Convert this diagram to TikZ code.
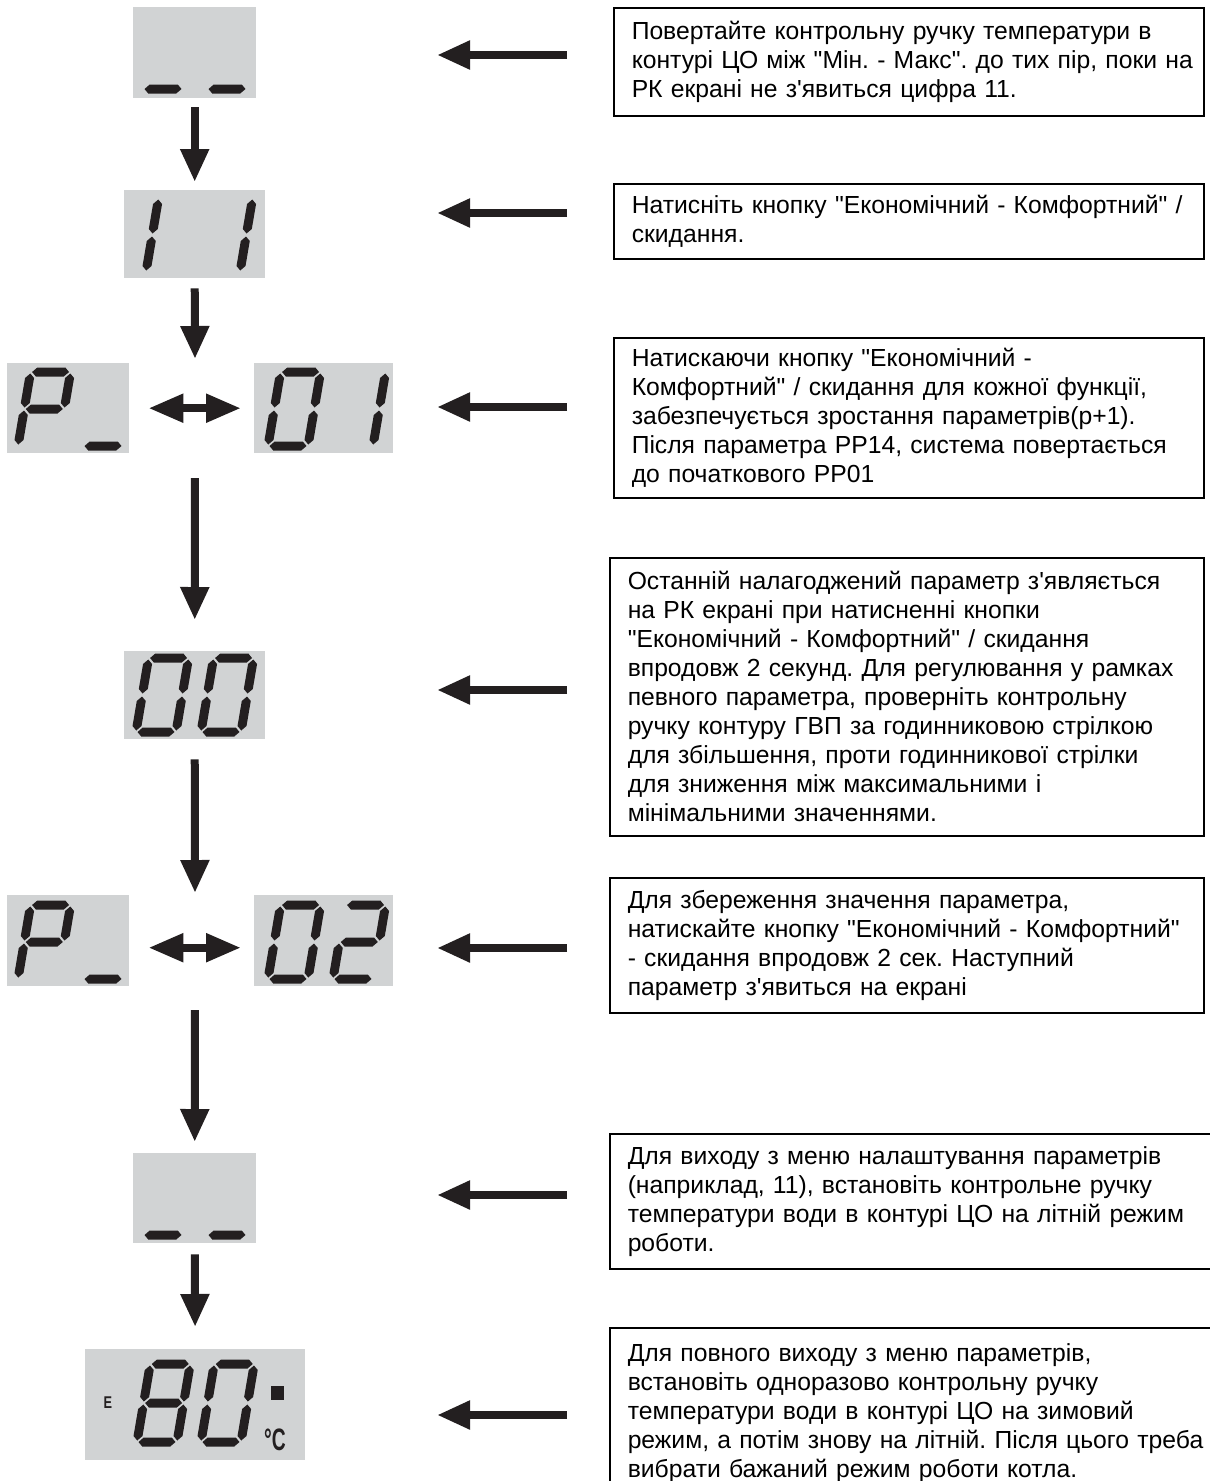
\documentclass[tikz,border=0pt]{standalone}
\usepackage{fontspec}
\newfontfamily\arialschrift{Liberation Sans}
\usepackage{tikz}
\usetikzlibrary{arrows.meta, calc, positioning}
\definecolor{lcdgrau}{HTML}{D1D3D4}
\definecolor{tinte}{HTML}{231F20}

% --- 7-Segment-Anzeige: lokale Koordinaten, y nach oben ---
\newcommand{\dW}{40}
\newcommand{\dH}{74}
\newcommand{\hseg}[3]{\fill[tinte] (#1+1.5,#3) -- (#1+6,#3+4.5) -- (#2-6,#3+4.5)
  -- (#2-1.5,#3) -- (#2-6,#3-4.5) -- (#1+6,#3-4.5) -- cycle;}
\newcommand{\vseg}[3]{\fill[tinte] (#1,#2+1.5) -- (#1+4.5,#2+6) -- (#1+4.5,#3-6)
  -- (#1,#3-1.5) -- (#1-4.5,#3-6) -- (#1-4.5,#2+6) -- cycle;}
\newcommand{\segA}{\hseg{0}{\dW}{\dH}}
\newcommand{\segB}{\vseg{\dW}{\dH/2}{\dH}}
\newcommand{\segC}{\vseg{\dW}{0}{\dH/2}}
\newcommand{\segD}{\hseg{0}{\dW}{0}}
\newcommand{\segE}{\vseg{0}{0}{\dH/2}}
\newcommand{\segF}{\vseg{0}{\dH/2}{\dH}}
\newcommand{\segG}{\hseg{0}{\dW}{\dH/2}}
\newcommand{\lcddigit}[3]{%
  \begin{scope}[shift={(#1,#2)}, x=1pt, y=1pt, xslant=0.17]
    \foreach \s in {#3} {\csname seg\s\endcsname}
  \end{scope}}

\tikzset{
  pfeil/.style={tinte, line width=8pt, -{Triangle[width=27pt,length=33pt]}},
  doppelpfeil/.style={tinte, line width=8pt,
    {Triangle[width=27pt,length=35pt]}-{Triangle[width=27pt,length=35pt]}},
  lcd/.style={fill=lcdgrau, inner sep=0pt, anchor=north west},
  infobox/.style={draw=black, line width=1.5pt, inner xsep=0pt, inner ysep=8pt,
    align=left, anchor=north west,
    font=\arialschrift\fontsize{24.7}{29}\selectfont\frenchspacing,
    execute at begin node={\leftskip=18pt}},
}

\begin{document}
\begin{tikzpicture}[x=1pt, y=-1pt]
  \useasboundingbox (0,0) rectangle (1210,1481);
  \clip (0,0) rectangle (1210,1481);
  \fill[white] (0,0) rectangle (1210,1481);

  % --- Anzeigen links ---
  \node[lcd, minimum width=123, minimum height=91] (anz1) at (133,7) {};
  \node[lcd, minimum width=141, minimum height=88] (anz2) at (124,190) {};
  \node[lcd, minimum width=122, minimum height=90] (p1) at (7,363) {};
  \node[lcd, minimum width=139, minimum height=90] (v1) at (254,363) {};
  \node[lcd, minimum width=141, minimum height=88] (anz3) at (124,651) {};
  \node[lcd, minimum width=122, minimum height=91] (p2) at (7,895) {};
  \node[lcd, minimum width=139, minimum height=91] (v2) at (254,895) {};
  \node[lcd, minimum width=123, minimum height=90] (anz4) at (133,1153) {};
  \node[lcd, minimum width=220, minimum height=111] (anz5) at (85,1349) {};

  % Ziffern
  \lcddigit{143}{89}{D}
  \lcddigit{207}{89}{D}
  \lcddigit{106}{272}{B,C}
  \lcddigit{200}{272}{B,C}
  \lcddigit{18}{446}{A,B,F,G,E}
  \lcddigit{83}{446}{D}
  \lcddigit{268}{446}{A,B,C,D,E,F}
  \lcddigit{333}{446}{B,C}
  \lcddigit{136}{732}{A,B,C,D,E,F}
  \lcddigit{201}{732}{A,B,C,D,E,F}
  \lcddigit{18}{979}{A,B,F,G,E}
  \lcddigit{83}{979}{D}
  \lcddigit{268}{979}{A,B,C,D,E,F}
  \lcddigit{333}{979}{A,B,G,E,D}
  \lcddigit{143}{1235}{D}
  \lcddigit{207}{1235}{D}
  \begin{scope}
    \renewcommand{\dH}{78}
    \lcddigit{137}{1442}{A,B,C,D,E,F,G}
    \lcddigit{201}{1442}{A,B,C,D,E,F}
  \end{scope}
  \node[text=tinte, font=\arialschrift\fontsize{17}{17}\selectfont\bfseries, xscale=0.75] (emark) at (108,1403) {E};
  \fill[tinte] (271,1386) rectangle (284,1400);
  \node[text=tinte, font=\arialschrift\fontsize{31}{31}\selectfont\bfseries, xscale=0.62] (grad) at (275,1440) {°C};

  % --- Pfeile zwischen den Anzeigen ---
  \coordinate (reihe1o) at (195,363);
  \coordinate (reihe1u) at (195,453);
  \coordinate (reihe2o) at (195,895);
  \coordinate (reihe2u) at (195,986);
  \draw[pfeil, shorten <=9pt, shorten >=8pt] (anz1.south) -- (anz2.north);
  \draw[pfeil, shorten <=10pt, shorten >=4pt] (anz2.south) -- (reihe1o);
  \draw[pfeil, shorten <=25pt, shorten >=31pt] (reihe1u) -- (anz3.north);
  \draw[pfeil, shorten <=20pt, shorten >=2pt] (anz3.south) -- (reihe2o);
  \draw[pfeil, shorten <=24pt, shorten >=11pt] (reihe2u) -- (anz4.north);
  \draw[pfeil, shorten <=11pt, shorten >=22pt] (anz4.south) -- (anz5.north);
  \draw[doppelpfeil, shorten <=19pt, shorten >=13pt] (p1.east) -- (v1.west);
  \draw[doppelpfeil, shorten <=19pt, shorten >=13pt]
    ([yshift=-7pt]p2.east) -- ([yshift=-7pt]v2.west);

  % --- Textkästen rechts ---
  \node[infobox, text width=590, minimum height=108] (t1) at (613,7)
    {Повертайте контрольну ручку температури в\\
     контурі ЦО між "Мін. - Макс". до тих пір, поки на\\
     РК екрані не з'явиться цифра 11.};
  \node[infobox, text width=590, minimum height=75] (t2) at (613,183)
    {Натисніть кнопку "Економічний - Комфортний" /\\
     скидання.};
  \node[infobox, text width=590, minimum height=160] (t3) at (613,337)
    {Натискаючи кнопку "Економічний -\\
     Комфортний" / скидання для кожної функції,\\
     забезпечується зростання параметрів(р+1).\\
     Після параметра РР14, система повертається\\
     до початкового РР01};
  \node[infobox, text width=594, minimum height=278] (t4) at (609,557)
    {Останній налагоджений параметр з'являється\\
     на РК екрані при натисненні кнопки\\
     "Економічний - Комфортний" / скидання\\
     впродовж 2 секунд. Для регулювання у рамках\\
     певного параметра, проверніть контрольну\\
     ручку контуру ГВП за годинниковою стрілкою\\
     для збільшення, проти годинникової стрілки\\
     для зниження між максимальними і\\
     мінімальними значеннями.};
  \node[infobox, text width=594, minimum height=135] (t5) at (609,877)
    {Для збереження значення параметра,\\
     натискайте кнопку "Економічний - Комфортний"\\
     - скидання впродовж 2 сек. Наступний\\
     параметр з'явиться на екрані};
  \node[infobox, text width=620, minimum height=135] (t6) at (609,1133)
    {Для виходу з меню налаштування параметрів\\
     (наприклад, 11), встановіть контрольне ручку\\
     температури води в контурі ЦО на літній режим\\
     роботи.};
  \node[infobox, text width=620, minimum height=170] (t7) at (609,1327)
    {Для повного виходу з меню параметрів,\\
     встановіть одноразово контрольну ручку\\
     температури води в контурі ЦО на зимовий\\
     режим, а потім знову на літній. Після цього треба\\
     вибрати бажаний режим роботи котла.\\[8pt]};

  % --- Pfeile von den Textkästen ---
  \foreach \y [count=\i] in {55,213,407,690,948,1195,1415} {
    \coordinate (pa\i) at (567,\y);
    \coordinate (pb\i) at (437,\y);
    \draw[pfeil] (pa\i) -- (pb\i);
  }
\end{tikzpicture}
\end{document}
